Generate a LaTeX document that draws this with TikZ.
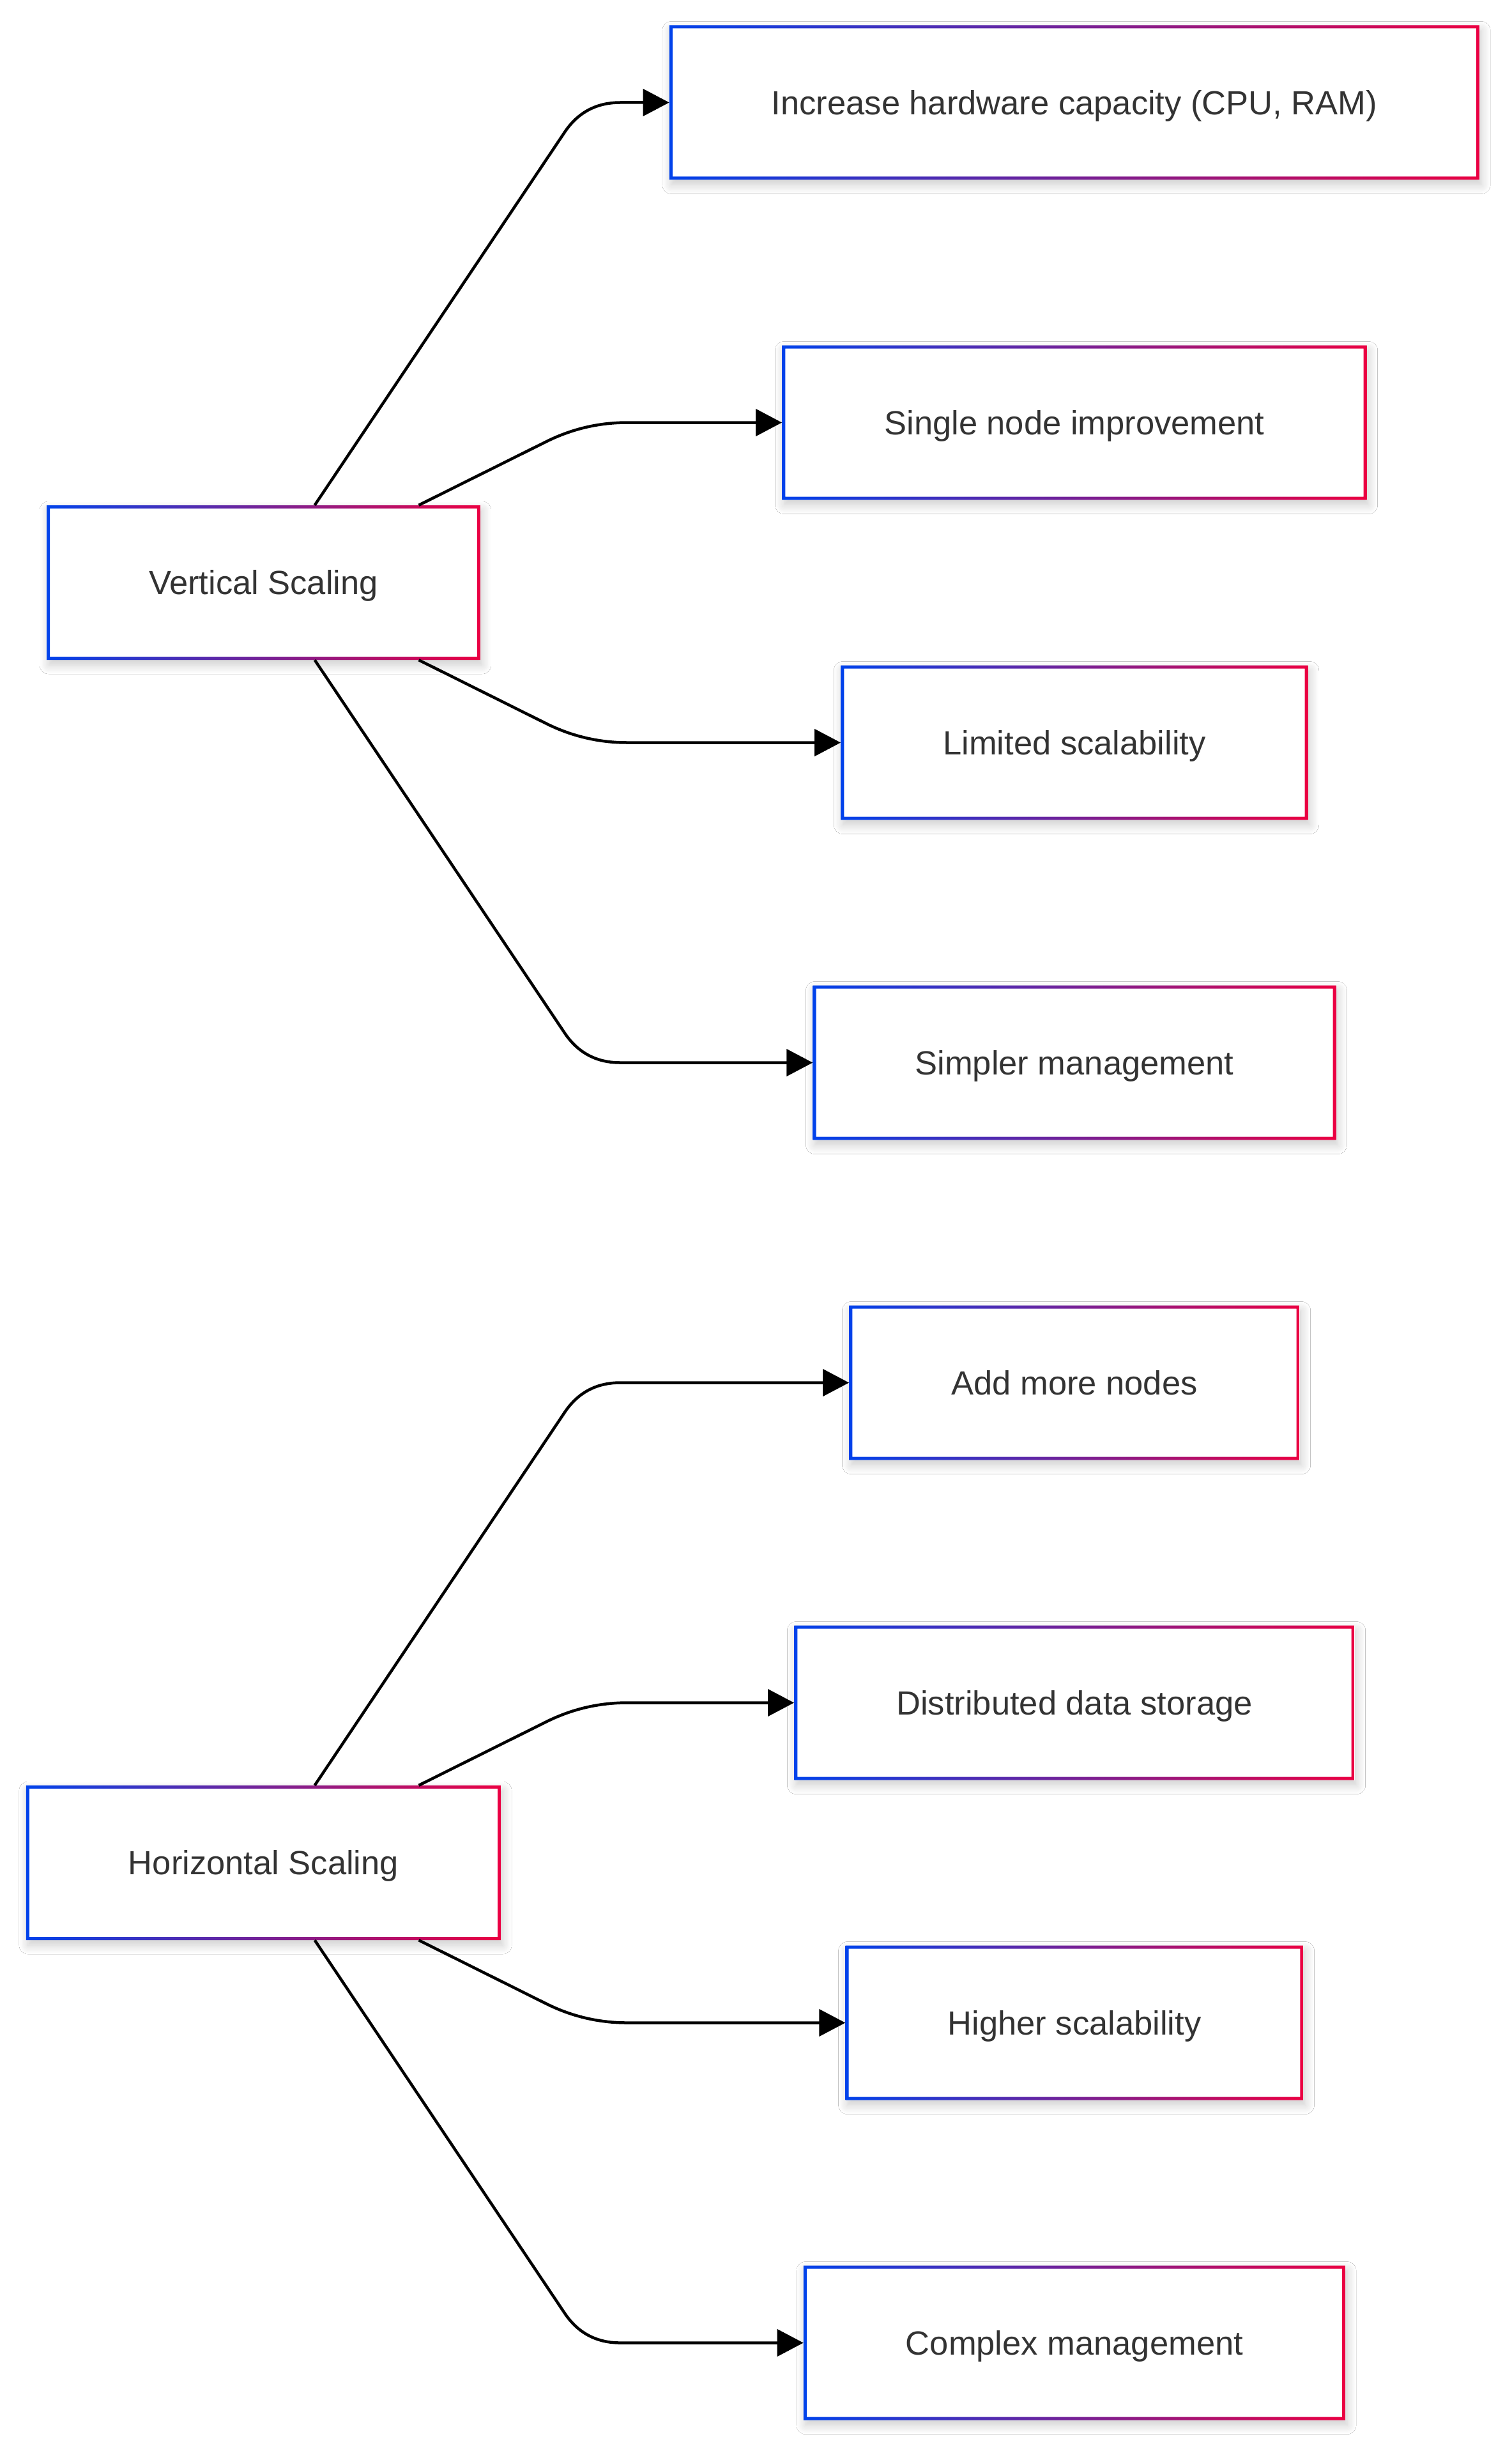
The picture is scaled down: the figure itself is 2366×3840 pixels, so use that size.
\documentclass[tikz,border=0pt]{standalone}
\usepackage{fontspec}
\setmainfont{Liberation Sans}
\usetikzlibrary{calc,arrows.meta,shadows.blur}
\definecolor{gs}{HTML}{0042EB}
\definecolor{ge}{HTML}{EB0042}
\definecolor{tg}{HTML}{333333}
\tikzset{
  gbox/.style={rectangle, fill=white, text=tg,
    font=\fontsize{52.5}{63}\selectfont,
    inner xsep=160pt, inner ysep=0pt, minimum height=242pt,
    text height=37.6pt, text depth=0pt,
    blur shadow={shadow xshift=3pt, shadow yshift=-8pt, shadow blur radius=14pt, shadow blur steps=12, shadow opacity=20},
    path picture={\shade[left color=gs, right color=ge, even odd rule]
      (path picture bounding box.south west) rectangle (path picture bounding box.north east)
      ([shift={(5pt,5pt)}]path picture bounding box.south west) rectangle ([shift={(-5pt,-5pt)}]path picture bounding box.north east);}},
  conn/.style={draw=black, line width=4.5pt, -{Triangle[length=41pt,width=42pt]}}
}
\newcommand\gedge[3]{%
  \coordinate (k#2) at ($(#2.west -| #1.center)+(502.5pt,0pt)$);
  \coordinate (a#2) at ($(k#2)!#3!(#1.center)$);
  \coordinate (b#2) at ($(k#2)+(#3,0pt)$);
  \draw[conn] (#1) -- (a#2) .. controls ($(a#2)!0.6667!(k#2)$) and ($(b#2)!0.6667!(k#2)$) .. (b#2) -- (#2);
}
\begin{document}
\begin{tikzpicture}[x=1pt,y=-1pt]
\fill[white] (0,0) rectangle (2366,3840);
\useasboundingbox (0,0) rectangle (2366,3840);

\node[gbox] (VS) at (412.5,912) {Vertical Scaling};
\node[gbox] (HS) at (412.5,2916) {Horizontal Scaling};

\node[gbox] (B1) at (1682,160.5) {Increase hardware capacity (CPU, RAM)};
\node[gbox] (B2) at (1682,661.5) {Single node improvement};
\node[gbox] (B3) at (1682,1162.5) {Limited scalability};
\node[gbox] (B4) at (1682,1663.5) {Simpler management};
\node[gbox] (B5) at (1682,2164.5) {Add more nodes};
\node[gbox] (B6) at (1682,2665.5) {Distributed data storage};
\node[gbox] (B7) at (1682,3166.5) {Higher scalability};
\node[gbox] (B8) at (1682,3667.5) {Complex management};

\gedge{VS}{B1}{56pt}
\gedge{VS}{B2}{67pt}
\gedge{VS}{B3}{67pt}
\gedge{VS}{B4}{56pt}
\gedge{HS}{B5}{56pt}
\gedge{HS}{B6}{67pt}
\gedge{HS}{B7}{67pt}
\gedge{HS}{B8}{56pt}
\end{tikzpicture}
\end{document}
